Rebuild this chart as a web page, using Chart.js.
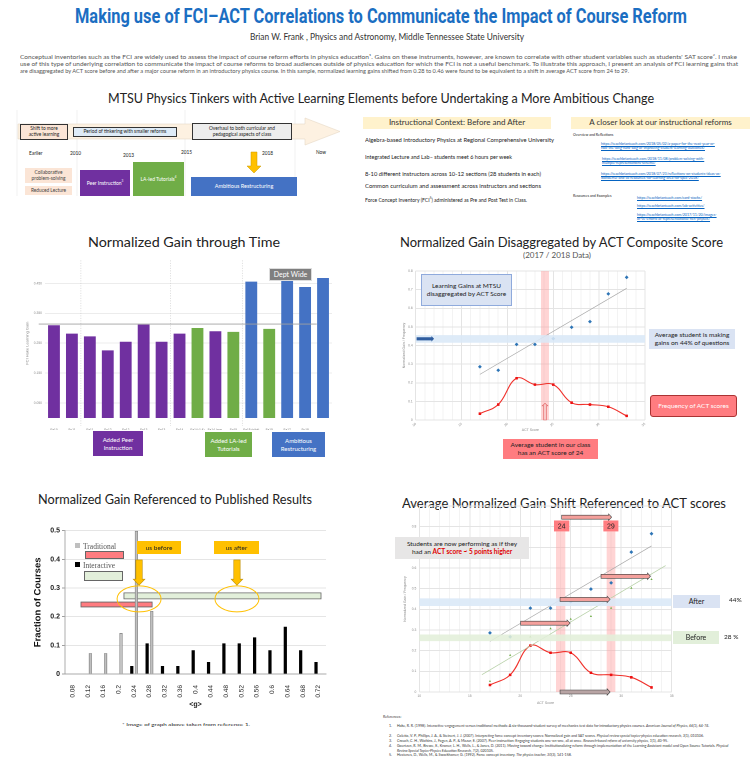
<!DOCTYPE html>
<html>
<head>
<meta charset="utf-8">
<script src="https://cdn.jsdelivr.net/npm/chart.js@4.4.0/dist/chart.umd.min.js"></script>
<style>
html, body { margin: 0; padding: 0; background: #fff; }
body { width: 750px; height: 766px; position: relative; overflow: hidden; font-family: Lato, 'Open Sans', sans-serif; color: #222; }
.a { position: absolute; white-space: nowrap; line-height: 1; transform-origin: 0 0; }
.box { position: absolute; display: flex; align-items: center; justify-content: center; text-align: center; box-sizing: border-box; line-height: 1.2; }
canvas { position: absolute; }
.lnk { color: #0563c1; text-decoration: underline; font-size: 3.6px; line-height: 4.4px; position: absolute; white-space: normal; }
.ref { position: absolute; font-size: 3.6px; line-height: 4.6px; color: #333; white-space: normal; }
</style>
</head>
<body>

<!-- header -->
<div class="a" data-w="612" style="left:75px;top:4px;font:bold 20px Roboto;color:#1b6ec2">Making use of FCI–ACT Correlations to Communicate the Impact of Course Reform</div>
<div class="a" data-w="274" style="left:250px;top:32px;font-size:9.5px;color:#333">Brian W. Frank , Physics and Astronomy, Middle Tennessee State University</div>
<div class="a" data-w="717" style="left:20px;top:54px;font-size:6px;color:#555">Conceptual inventories such as the FCI are widely used to assess the impact of course reform efforts in physics education¹.  Gains on these instruments, however, are known to correlate with other student variables such as students' SAT score². I make</div>
<div class="a" data-w="718" style="left:20px;top:61px;font-size:6px;color:#555">use of this type of underlying correlation to communicate the impact of course reforms to broad audiences outside of physics education for which the FCI is not a useful benchmark. To illustrate this approach, I present an analysis of FCI learning gains that</div>
<div class="a" data-w="609" style="left:20px;top:68px;font-size:6px;color:#555">are disaggregated by ACT score before and after a major course reform in an introductory physics course. In this sample, normalized learning gains shifted from 0.28 to 0.46 were found to be equivalent to a shift in average ACT score from 24 to 29.</div>

<div class="a" data-w="546" style="left:108px;top:92px;font-size:13px;color:#222">MTSU Physics Tinkers with Active Learning Elements before Undertaking a More Ambitious Change</div>

<!-- timeline -->
<svg style="position:absolute;left:0;top:0" width="360" height="200">
  <line x1="17" y1="110" x2="17" y2="196" stroke="#e8e8e8" stroke-width="0.6"/>
  <line x1="77" y1="110" x2="77" y2="196" stroke="#e8e8e8" stroke-width="0.6"/>
  <line x1="185" y1="110" x2="185" y2="196" stroke="#e8e8e8" stroke-width="0.6"/>
  <line x1="295" y1="110" x2="295" y2="196" stroke="#e8e8e8" stroke-width="0.6"/>
  <polygon points="18,124 305,124 305,118 340,131.5 305,145 305,139 18,139" fill="#fdf1e1" stroke="#e6d9c6" stroke-width="0.6"/>
  <polygon points="251,152 257,152 257,166 261,166 254,173 247,166 251,166" fill="#ffc000" stroke="#c99a00" stroke-width="0.5"/>
</svg>
<div class="box" style="left:20px;top:124px;width:48px;height:16px;background:#fbe5d6;border:1px solid #333;font-size:4.8px">Shift to more<br>active learning</div>
<div class="box" style="left:73px;top:127px;width:104px;height:10px;background:#deebf7;border:1px solid #333;font-size:4.8px">Period of tinkering with smaller reforms</div>
<div class="box" style="left:192px;top:123px;width:100px;height:17px;background:#ededed;border:1px solid #333;font-size:4.8px">Overhaul to both curricular and<br>pedagogical aspects of class</div>
<div class="a" style="left:29px;top:151px;font-size:4.8px">Earlier</div>
<div class="a" style="left:70px;top:151px;font-size:4.8px">2010</div>
<div class="a" style="left:123px;top:153px;font-size:4.8px">2013</div>
<div class="a" style="left:181px;top:150px;font-size:4.8px">2015</div>
<div class="a" style="left:262px;top:151px;font-size:4.8px">2018</div>
<div class="a" style="left:316px;top:150px;font-size:4.8px">Now</div>
<div class="box" style="left:25px;top:168px;width:47px;height:15px;background:#fbe5d6;font-size:4.8px;color:#444">Collaborative<br>problem-solving</div>
<div class="box" style="left:25px;top:186px;width:47px;height:9px;background:#fbe5d6;font-size:4.8px;color:#444">Reduced Lecture</div>
<div class="box" style="left:80px;top:170px;width:50px;height:26px;background:#7030a0;color:#fff;font-size:5px">Peer Instruction<sup style="font-size:3px">3</sup></div>
<div class="box" style="left:133px;top:162px;width:51px;height:34px;background:#70ad47;color:#fff;font-size:5px">LA-led Tutorials<sup style="font-size:3px">4</sup></div>
<div class="box" style="left:191px;top:177px;width:106px;height:19px;background:#4472c4;color:#fff;font-size:5.5px">Ambitious Restructuring</div>

<!-- context -->
<div class="box" style="left:363px;top:117px;width:188px;height:12px;background:#fff2cc;font-size:8px;color:#333">Instructional Context: Before and After</div>
<div class="a" data-w="189" style="left:365px;top:137px;font-size:5.6px">Algebra-based Introductory Physics at Regional Comprehensive University</div>
<div class="a" data-w="147" style="left:365px;top:154px;font-size:5.6px">Integrated Lecture and Lab– students meet 6 hours per week</div>
<div class="a" data-w="176" style="left:365px;top:171px;font-size:5.6px">8-10 different instructors across 10-12 sections (28 students in each)</div>
<div class="a" data-w="176" style="left:365px;top:183px;font-size:5.6px">Common curriculum and assessment across instructors and sections</div>
<div class="a" data-w="162" style="left:365px;top:196.5px;font-size:4.8px">Force Concept Inventory (FCI<sup style="font-size:3px">5</sup>) administered as Pre and Post Test in Class.</div>

<div class="box" style="left:571px;top:117px;width:179px;height:12px;background:#fff2cc;font-size:8px;color:#333">A closer look at our instructional reforms</div>
<div class="a" style="left:573px;top:133px;font-size:3.6px">Overview and Reflections</div>
<div class="lnk" style="left:601px;top:142px;width:118px">https://teachbrianteach.com/2018/05/02/a-paper-for-the-next-year-or-two-the-long-hard-slog-of-improving-student-learning-outcomes/</div>
<div class="lnk" style="left:602px;top:157px;width:114px">https://teachbrianteach.com/2018/11/08/problem-solving-with-multiple-representations-scheme/</div>
<div class="lnk" style="left:601px;top:172px;width:120px">https://teachbrianteach.com/2018/07/23/reflections-on-students-ideas-as-wonderful-and-as-resources-for-learning-area-for-spec-2018/</div>
<div class="a" style="left:573px;top:194px;font-size:3.6px">Resources and Examples</div>
<div class="lnk" style="left:637px;top:196px;width:100px">https://teachbrianteach.com/card-stacks/</div>
<div class="lnk" style="left:637px;top:204px;width:100px">https://teachbrianteach.com/lab-activities/</div>
<div class="lnk" style="left:637px;top:213px;width:76px">https://teachbrianteach.com/2017/11/20/images-of-ve-efforts-at-representational-rich-physics/</div>

<!-- section titles -->
<div class="a" data-w="192" style="left:88px;top:237px;font-size:12.5px">Normalized Gain through Time</div>
<div class="a" data-w="323" style="left:400px;top:237px;font-size:12.5px">Normalized Gain Disaggregated by ACT Composite Score</div>
<div class="a" data-w="68" style="left:523px;top:252px;font-size:7.5px;color:#555">(2017 / 2018 Data)</div>
<div class="a" data-w="274" style="left:38px;top:494px;font-size:12.5px">Normalized Gain Referenced to Published Results</div>
<div class="a" data-w="324" style="left:402px;top:498px;font-size:12.5px">Average Normalized Gain Shift Referenced to ACT scores</div>

<canvas id="c1" width="318" height="172" style="left:22px;top:258px"></canvas>
<canvas id="c2" width="258" height="166" style="left:396px;top:266px"></canvas>
<canvas id="c3" width="312" height="186" style="left:20px;top:524px"></canvas>
<canvas id="c4" width="283" height="205" style="left:397px;top:500px"></canvas>

<!-- chart 1 overlays -->
<div class="box" style="left:269px;top:268px;width:43px;height:13px;background:#7f7f7f;color:#fff;font-size:7px;border:0.6px solid #ddd">Dept Wide</div>
<div class="box" style="left:93px;top:431px;width:50px;height:25px;background:#7030a0;color:#fff;font-size:6px">Added Peer<br>Instruction</div>
<div class="box" style="left:205px;top:432px;width:47px;height:25px;background:#70ad47;color:#fff;font-size:6px">Added LA-led<br>Tutorials</div>
<div class="box" style="left:272px;top:432px;width:53px;height:25px;background:#4472c4;color:#fff;font-size:6px">Ambitious<br>Restructuring</div>

<!-- chart 2 overlays -->
<div class="box" style="left:421px;top:274px;width:91px;height:32px;background:#dae3f3;border:0.8px solid #8faadc;font-size:6.5px">Learning Gains at MTSU<br>disaggregated by ACT Score</div>
<div class="box" style="left:649px;top:329px;width:86px;height:20px;background:#dae3f3;font-size:6.5px">Average student is making<br>gains on 44% of questions</div>
<div class="box" style="left:650px;top:395px;width:87px;height:22px;background:#ff7c80;border:0.8px solid #a33;border-radius:3px;color:#fff;font-size:6.5px">Frequency of ACT scores</div>
<div class="box" style="left:503px;top:439px;width:95px;height:20px;background:#ff7c80;font-size:6.5px">Average student in our class<br>has an ACT score of 24</div>

<!-- chart 3 overlays -->
<div style="position:absolute;left:75px;top:542.7px;width:5px;height:5px;background:#bfbfbf"></div>
<div class="a" style="left:83px;top:541.5px;font:7.5px 'Liberation Serif';color:#555">Traditional</div>
<div style="position:absolute;left:75px;top:561.7px;width:5px;height:5px;background:#000"></div>
<div class="a" style="left:83px;top:561px;font:7.5px 'Liberation Serif';color:#555">Interactive</div>
<div style="position:absolute;left:85px;top:551px;width:39px;height:8px;background:#ff7c80;border:0.8px solid #666;box-sizing:border-box"></div>
<div style="position:absolute;left:84px;top:571px;width:39px;height:10px;background:#e2efda;border:0.8px solid #666;box-sizing:border-box"></div>
<div class="box" style="left:137px;top:541px;width:44px;height:13px;background:#ffc000;font-size:6.5px">us before</div>
<div class="box" style="left:214px;top:541px;width:45px;height:13px;background:#ffc000;font-size:6.5px">us after</div>
<div class="a" data-w="128" style="left:122px;top:723px;font-size:4.5px">* Image of graph above taken from reference 1.</div>

<!-- chart 4 overlays -->
<div class="box" style="left:395px;top:537px;width:134px;height:22px;background:#e7e6e6;font-size:6.5px">Students are now performing as if they<br>had an <b style="color:#e00000">ACT score ~ 5 points higher</b></div>
<div class="box" style="left:673px;top:595px;width:47px;height:13px;background:#dae3f3;font-size:7px">After</div>
<div class="a" style="left:729px;top:597px;font-size:6.5px">44%</div>
<div class="box" style="left:673px;top:631px;width:46px;height:13px;background:#e2efda;font-size:7px">Before</div>
<div class="a" style="left:724px;top:633.5px;font-size:6.5px">28 %</div>

<!-- references -->
<div class="ref" style="left:383px;top:715px">References:</div>
<div class="ref" style="left:389px;top:724px">1.</div>
<div class="ref" style="left:397px;top:724px;width:333px">Hake, R. R. (1998). Interactive-engagement versus traditional methods: A six-thousand-student survey of mechanics test data for introductory physics courses. <i>American Journal of Physics, 66</i>(1), 64-74.</div>
<div class="ref" style="left:389px;top:734px">2.</div>
<div class="ref" style="left:397px;top:734px;width:333px">Coletta, V. P., Phillips, J. A., &amp; Steinert, J. J. (2007). Interpreting force concept inventory scores: Normalized gain and SAT scores. <i>Physical review special topics-physics education research, 3</i>(1), 010106.</div>
<div class="ref" style="left:389px;top:739px">3.</div>
<div class="ref" style="left:397px;top:739px;width:333px">Crouch, C. H., Watkins, J., Fagen, A. P., &amp; Mazur, E. (2007). Peer instruction: Engaging students one-on-one, all at once. <i>Research-based reform of university physics, 1</i>(1), 40-95.</div>
<div class="ref" style="left:389px;top:744px">4.</div>
<div class="ref" style="left:397px;top:744px;width:333px">Goertzen, R. M., Brewe, E., Kramer, L. H., Wells, L., &amp; Jones, D. (2011). Moving toward change: Institutionalizing reform through implementation of the Learning Assistant model and Open Source Tutorials. <i>Physical Review Special Topics-Physics Education Research, 7</i>(2), 020105.</div>
<div class="ref" style="left:389px;top:753px">5.</div>
<div class="ref" style="left:397px;top:753px;width:333px">Hestenes, D., Wells, M., &amp; Swackhamer, G. (1992). Force concept inventory. <i>The physics teacher, 30</i>(3), 141-158.</div>

<script>
// gain by semester (FCI Hake gain)
const termLabels = ['Fa10', 'Sp11', 'Fa11', 'Sp12', 'Fa12', 'Sp13', 'Fa13', 'Sp14', 'Fa14 (LA)', 'Fa14 (non-', 'Sp15', 'Fa15 (pilot)', 'Fa15', 'Fa17', 'Sp18', ''];
const termGains = [0.310, 0.282, 0.273, 0.226, 0.255, 0.312, 0.255, 0.282, 0.301, 0.290, 0.288, 0.456, 0.298, 0.459, 0.438, 0.468];
const termReform = ['PI', 'PI', 'PI', 'PI', 'PI', 'PI', 'PI', 'PI', 'LA', 'PI', 'LA', 'AR', 'LA', 'AR', 'AR', 'AR'];
const gainTicks = [0.05, 0.15, 0.25, 0.35, 0.45];
const priorAverage = 0.314;

// ACT disaggregated data
const actScores = [17, 19, 21, 23, 25, 27, 29, 31, 33];
const gainAfter = [0.286, 0.267, 0.406, 0.406, 0.437, 0.498, 0.528, 0.677, 0.766];
const gainBefore = [0.052, 0.178, 0.267, 0.307, 0.353, 0.366, 0.406, 0.503, 0.545];
const actFreq = [0.034, 0.083, 0.224, 0.190, 0.190, 0.093, 0.083, 0.071, 0.022];
const trendAfterX = [17, 33];
const trendAfterY = [0.245, 0.707];
const trendBeforeX = [16.2, 34.4];
const trendBeforeY = [0.084, 0.612];

// Hake 1998 histogram
const gBins = ['0.08', '0.12', '0.16', '0.2', '0.24', '0.28', '0.32', '0.36', '0.4', '0.44', '0.48', '0.52', '0.56', '0.6', '0.64', '0.68', '0.72'];
const fracTraditional = [0, 0.073, 0.073, 0.143, 0.5, 0.22, 0, 0, 0, 0, 0, 0, 0, 0, 0, 0, 0];
const fracInteractive = [0, 0, 0, 0, 0.028, 0.107, 0.028, 0.028, 0.083, 0.042, 0.107, 0.107, 0.128, 0.083, 0.165, 0.083, 0.042];

// keep box text as one flex item
document.querySelectorAll('.box').forEach(el => { el.innerHTML = '<span>' + el.innerHTML + '</span>'; });

// stretch text to its width on the poster
document.querySelectorAll('[data-w]').forEach(el => {
  const w = el.getBoundingClientRect().width;
  el.style.transform = 'scaleX(' + (el.dataset.w / w) + ')';
});

Chart.defaults.font.family = "'Liberation Sans', Arial, sans-serif";
Chart.defaults.animation = false;
Chart.defaults.responsive = false;
Chart.defaults.devicePixelRatio = 2;
Chart.defaults.plugins.legend.display = false;
Chart.defaults.plugins.tooltip.enabled = false;

const pts = (xs, ys) => xs.map((x, i) => ({ x: x, y: ys[i] }));

// shapes drawn in data coordinates
function annot(under, over, toX) {
  const paint = (chart, items) => {
    const ctx = chart.ctx, ca = chart.chartArea;
    const X = v => chart.scales.x.getPixelForValue(toX ? toX(v) : v);
    const Y = v => chart.scales.y.getPixelForValue(v);
    ctx.save();
    items.forEach(it => {
      ctx.beginPath();
      ctx.setLineDash(it.dash || []);
      ctx.lineWidth = it.lw || 1;
      if (it.t === 'rect' || it.t === 'label') {
        const x0 = it.x0 == null ? ca.left : X(it.x0), x1 = it.x1 == null ? ca.right : X(it.x1);
        const y0 = it.y0 == null ? ca.bottom : Y(it.y0), y1 = it.y1 == null ? ca.top : Y(it.y1);
        ctx.rect(x0, y1, x1 - x0, y0 - y1);
        if (it.fill) { ctx.fillStyle = it.fill; ctx.fill(); }
        if (it.stroke) { ctx.strokeStyle = it.stroke; ctx.stroke(); }
        if (it.text) {
          ctx.fillStyle = it.color; ctx.font = it.font; ctx.textAlign = 'center'; ctx.textBaseline = 'middle';
          ctx.fillText(it.text, (x0 + x1) / 2, (y0 + y1) / 2 + 0.5);
        }
      } else if (it.t === 'line') {
        const y0 = it.y0 == null ? ca.top - (it.ext || 0) : Y(it.y0);
        const y1 = it.y1 == null ? ca.bottom + (it.ext || 0) : Y(it.y1);
        ctx.moveTo(X(it.x0), y0); ctx.lineTo(X(it.x1), y1);
        ctx.strokeStyle = it.stroke; ctx.stroke();
      } else if (it.t === 'harrow') {
        const a = X(it.x0), b = X(it.x1), c = Y(it.y);
        ctx.moveTo(a, c - it.h); ctx.lineTo(b - it.hl, c - it.h); ctx.lineTo(b - it.hl, c - it.hw);
        ctx.lineTo(b, c); ctx.lineTo(b - it.hl, c + it.hw); ctx.lineTo(b - it.hl, c + it.h);
        ctx.lineTo(a, c + it.h); ctx.closePath();
        ctx.fillStyle = it.fill; ctx.fill();
        if (it.stroke) { ctx.strokeStyle = it.stroke; ctx.stroke(); }
      } else if (it.t === 'varrow') {
        const a = X(it.x), y0 = Y(it.y0), y1 = Y(it.y1), s = y1 > y0 ? 1 : -1;
        ctx.moveTo(a - it.h, y0); ctx.lineTo(a - it.h, y1 - s * it.hl); ctx.lineTo(a - it.hw, y1 - s * it.hl);
        ctx.lineTo(a, y1); ctx.lineTo(a + it.hw, y1 - s * it.hl); ctx.lineTo(a + it.h, y1 - s * it.hl);
        ctx.lineTo(a + it.h, y0); ctx.closePath();
        ctx.fillStyle = it.fill; ctx.fill();
        if (it.stroke) { ctx.strokeStyle = it.stroke; ctx.stroke(); }
      } else if (it.t === 'ellipse') {
        ctx.ellipse(X(it.x), Y(it.y), it.rx, it.ry, 0, 0, Math.PI * 2);
        ctx.strokeStyle = it.stroke; ctx.stroke();
      }
    });
    ctx.restore();
  };
  return {
    id: 'annot',
    beforeDatasetsDraw(chart) { paint(chart, under); },
    afterDatasetsDraw(chart) { paint(chart, over); }
  };
}

// ---------- chart 1: gain through time ----------
const reformColor = { PI: '#7030a0', LA: '#70ad47', AR: '#4472c4' };
new Chart(document.getElementById('c1'), {
  type: 'bar',
  data: {
    labels: termLabels,
    datasets: [{
      data: termGains,
      backgroundColor: termReform.map(r => reformColor[r]),
      categoryPercentage: 1,
      barPercentage: 0.66
    }]
  },
  options: {
    layout: { padding: { left: 3, right: 8, top: 10.4, bottom: 0 } },
    scales: {
      x: {
        grid: { display: false },
        border: { display: false },
        ticks: { font: { size: 3.2 }, color: '#777', maxRotation: 0, autoSkip: false, padding: 2 },
        afterFit: s => { s.height = 12; }
      },
      y: {
        min: 0, max: 0.5,
        afterBuildTicks: s => { s.ticks = gainTicks.map(v => ({ value: v })); },
        grid: { color: '#ececec', drawTicks: false },
        border: { display: false },
        ticks: { font: { size: 3.3 }, color: '#888', padding: 3, callback: v => v.toFixed(3) },
        title: { display: true, text: 'FCI Hake Learning Gain', font: { size: 4 }, color: '#888', padding: 0 },
        afterFit: s => { s.width = 20; }
      }
    }
  },
  plugins: [annot(
    [
      { t: 'line', x0: 1.5, x1: 1.5, y0: null, y1: null, ext: 8, stroke: '#cccccc', lw: 0.7, dash: [1, 1.5] },
      { t: 'line', x0: 6.5, x1: 6.5, y0: null, y1: null, ext: 8, stroke: '#cccccc', lw: 0.7, dash: [1, 1.5] },
      { t: 'line', x0: 10.5, x1: 10.5, y0: null, y1: null, ext: 8, stroke: '#cccccc', lw: 0.7, dash: [1, 1.5] }
    ],
    [
      { t: 'line', x0: -0.85, x1: 14.65, y0: priorAverage, y1: priorAverage, stroke: '#a0a0a0', lw: 0.9 }
    ]
  )]
});

// ---------- chart 2 / 4 shared axes ----------
function actScales(yMax, xh) {
  return {
    x: {
      type: 'linear', min: 10, max: 35,
      grid: { color: c => c.tick.value % 5 === 0 ? '#e4e4e4' : '#f3f3f3', drawTicks: false },
      border: { display: false },
      ticks: { stepSize: 1, autoSkip: false, font: { size: 3.3 }, color: '#888', padding: 2,
        callback: v => v % 5 === 0 ? v : '' },
      title: { display: true, text: 'ACT Score', font: { size: 3.5 }, color: '#888', padding: 0 },
      afterFit: s => { s.height = xh; }
    },
    y: {
      min: 0, max: yMax,
      grid: { color: '#e4e4e4', drawTicks: false },
      border: { display: false },
      ticks: { stepSize: 0.1, font: { size: 3.3 }, color: '#888', padding: 3,
        callback: v => v === 0 ? '0' : v.toFixed(1) },
      title: { display: true, text: 'Normalized Gain / Frequency', font: { size: 3.5 }, color: '#888', padding: 0 }
    }
  };
}

const afterPoints = {
  type: 'scatter', data: pts(actScores, gainAfter), pointStyle: 'rectRot',
  pointRadius: 1.9, backgroundColor: '#2e75b6', borderWidth: 0
};
const freqLine = {
  type: 'line', data: pts(actScores, actFreq), borderColor: '#f0302a', borderWidth: 1.1,
  tension: 0.4, pointStyle: 'rect', pointRadius: 1.8, pointBackgroundColor: '#ee1111', pointBorderWidth: 0
};
const arrowStyle = { t: 'harrow', h: 2, hw: 3.2, hl: 3, fill: '#f4a09c', stroke: '#404040', lw: 0.6 };

// ---------- chart 2: disaggregated ----------
const s2 = actScales(0.8, 12);
s2.y.afterFit = s => { s.width = 13.7; };
new Chart(document.getElementById('c2'), {
  type: 'scatter',
  data: {
    datasets: [
      { type: 'line', data: pts(trendAfterX, trendAfterY), borderColor: '#a8a8a8', borderWidth: 0.7, pointRadius: 0 },
      afterPoints,
      freqLine
    ]
  },
  options: {
    layout: { padding: { left: 6, right: 9, top: 5, bottom: 0 } },
    scales: s2
  },
  plugins: [annot(
    [
      { t: 'rect', x0: 23.66, x1: 24.53, y0: null, y1: null, fill: 'rgba(255,160,160,0.45)' }
    ],
    [
      { t: 'rect', x0: null, x1: null, y0: 0.415, y1: 0.456, fill: 'rgba(218,232,247,0.88)' },
      { t: 'harrow', x0: 10.1, x1: 12.0, y: 0.436, h: 1.6, hw: 2.8, hl: 2.6, fill: '#2f5d9f' },
      { t: 'varrow', x: 24.1, y0: 0, y1: 0.09, h: 1.4, hw: 2.8, hl: 2.6, fill: '#f8c8c8', stroke: '#e06060', lw: 0.6 }
    ]
  )]
});

// ---------- chart 3: Hake histogram ----------
new Chart(document.getElementById('c3'), {
  type: 'bar',
  data: {
    labels: gBins,
    datasets: [
      { label: 'Interactive', data: fracInteractive, backgroundColor: '#000', borderWidth: 0 },
      { label: 'Traditional', data: fracTraditional, backgroundColor: '#c0c0c0', borderColor: '#7f7f7f',
        borderWidth: c => c.raw ? 0.8 : 0 }
    ]
  },
  options: {
    datasets: { bar: { categoryPercentage: 0.6, barPercentage: 0.7 } },
    layout: { padding: { left: 12, right: 6, top: 6.7, bottom: 0 } },
    scales: {
      x: {
        grid: { display: false },
        border: { color: '#999', width: 0.8 },
        ticks: { font: { size: 6.5 }, color: '#222', maxRotation: 90, minRotation: 90, autoSkip: false, padding: 3 },
        title: { display: true, text: '<g>', font: { size: 7, weight: 'bold' }, color: '#222', padding: 1 },
        afterFit: s => { s.height = 36; }
      },
      y: {
        min: 0, max: 0.5,
        grid: { color: '#dcdcdc', tickColor: '#888', tickLength: 3, lineWidth: 0.8 },
        border: { color: '#999', width: 0.8 },
        ticks: { stepSize: 0.1, font: { size: 7, weight: 'bold' }, color: '#222', padding: 2,
          callback: v => v === 0 ? '0' : v.toFixed(1) },
        title: { display: true, text: 'Fraction of Courses', font: { size: 9.5, weight: 'bold' }, color: '#111', padding: 0 },
        afterFit: s => { s.width = 33; }
      }
    }
  },
  plugins: [annot(
    [
      { t: 'rect', x0: 0.2136, x1: 0.727, y0: 0.262, y1: 0.283, fill: '#e2efda', stroke: '#666', lw: 0.8 },
      { t: 'rect', x0: 0.1016, x1: 0.287, y0: 0.234, y1: 0.251, fill: '#ff7c80', stroke: '#666', lw: 0.8 }
    ],
    [
      { t: 'ellipse', x: 0.253, y: 0.262, rx: 22, ry: 13, stroke: '#ffc000', lw: 1 },
      { t: 'ellipse', x: 0.508, y: 0.262, rx: 22, ry: 13, stroke: '#ffc000', lw: 1 },
      { t: 'varrow', x: 0.253, y0: 0.398, y1: 0.31, h: 3.2, hw: 5.8, hl: 6, fill: '#ffc000', stroke: '#bf8f00', lw: 0.6 },
      { t: 'varrow', x: 0.508, y0: 0.398, y1: 0.31, h: 3.2, hw: 5.8, hl: 6, fill: '#ffc000', stroke: '#bf8f00', lw: 0.6 }
    ],
    g => (g - 0.08) / 0.04
  )]
});

// ---------- chart 4: before / after shift ----------
const s4 = actScales(0.9, 13);
s4.y.afterFit = s => { s.width = 16.3; };
new Chart(document.getElementById('c4'), {
  type: 'scatter',
  data: {
    datasets: [
      { type: 'line', data: pts(trendAfterX, trendAfterY), borderColor: '#a8a8a8', borderWidth: 0.7, pointRadius: 0 },
      { type: 'line', data: pts(trendBeforeX, trendBeforeY), borderColor: '#b5cfa5', borderWidth: 0.7, pointRadius: 0 },
      afterPoints,
      { type: 'scatter', data: pts(actScores, gainBefore), pointStyle: 'triangle', pointRadius: 1.3,
        backgroundColor: '#70ad47', borderWidth: 0 },
      freqLine
    ]
  },
  options: {
    layout: { padding: { left: 6, right: 8.3, top: 6, bottom: 0 } },
    scales: s4
  },
  plugins: [annot(
    [
      { t: 'rect', x0: 23.54, x1: 24.46, y0: 0, y1: 0.777, fill: 'rgba(255,160,160,0.45)' },
      { t: 'rect', x0: 28.56, x1: 29.42, y0: 0, y1: 0.777, fill: 'rgba(255,160,160,0.45)' }
    ],
    [
      { t: 'rect', x0: null, x1: null, y0: 0.416, y1: 0.453, fill: 'rgba(218,232,247,0.88)' },
      { t: 'rect', x0: null, x1: null, y0: 0.246, y1: 0.278, fill: 'rgba(226,239,218,0.88)' },
      { t: 'label', x0: 23.34, x1: 24.86, y0: 0.777, y1: 0.83, fill: '#ff7c80', text: '24',
        font: "7px 'Liberation Sans'", color: '#222' },
      { t: 'label', x0: 28.23, x1: 29.72, y0: 0.777, y1: 0.83, fill: '#ff7c80', text: '29',
        font: "7px 'Liberation Sans'", color: '#222' },
      Object.assign({}, arrowStyle, { x0: 24.1, x1: 29.05, y: 0.846 }),
      Object.assign({}, arrowStyle, { x0: 28.0, x1: 32.9, y: 0.56 }),
      Object.assign({}, arrowStyle, { x0: 23.94, x1: 28.9, y: 0.448 }),
      Object.assign({}, arrowStyle, { x0: 20.04, x1: 24.93, y: 0.333 }),
      Object.assign({}, arrowStyle, { x0: 23.94, x1: 28.9, y: 0.0, fill: '#b8a4a4' })
    ]
  )]
});
</script>
</body>
</html>
